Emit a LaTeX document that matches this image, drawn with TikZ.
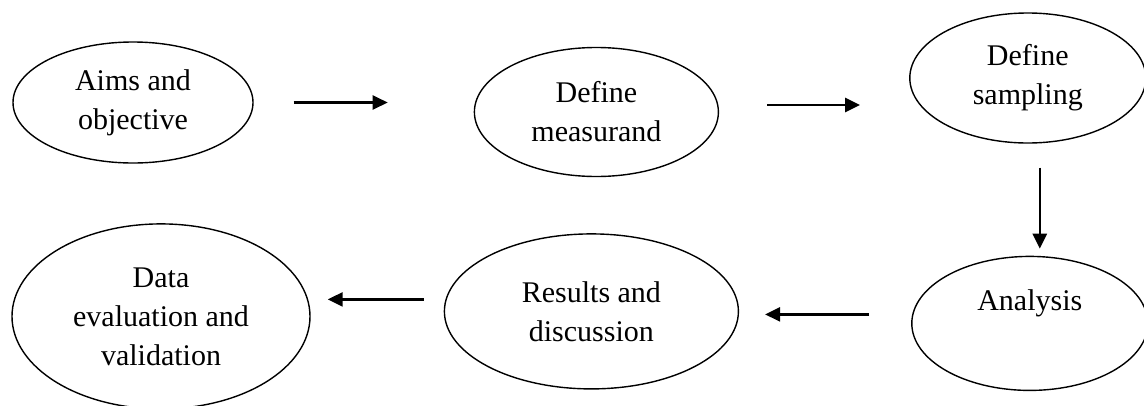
\documentclass[tikz,border=0pt]{standalone}
\usepackage{fontspec}
\setmainfont{Liberation Serif}
\usetikzlibrary{positioning,arrows.meta,shapes.geometric}
\tikzset{
  stage/.style={draw,ellipse,line width=1.4pt,align=center,inner sep=0pt,
    font=\fontsize{30}{39}\selectfont},
  arr/.style={-{Triangle[length=15pt,width=14pt]},line width=2.4pt},
}

\begin{document}
\begin{tikzpicture}[x=1pt,y=-1pt]
\useasboundingbox (0,0) rectangle (1144,405);

\node[stage, minimum width=240pt, minimum height=121pt] (aims) at (133,102.5) {Aims and\\objective};
\node[stage, minimum width=244pt, minimum height=129pt, right=220pt of aims, yshift=-9.5pt] (meas) {Define\\measurand};
\node[stage, minimum width=236pt, minimum height=130pt, right=190pt of meas, yshift=34pt] (samp) {Define\\sampling};

\node[stage, minimum width=236pt, minimum height=134pt, text depth=46pt, below=112pt of samp, xshift=2pt] (ana) {Analysis};
\node[stage, minimum width=294pt, minimum height=155pt, left=172pt of ana, yshift=12pt] (res) {Results and\\discussion};
\node[stage, minimum width=298pt, minimum height=185pt, left=133pt of res, yshift=-5pt] (data) {Data\\evaluation and\\validation};

% flow of the steps
\draw[arr, shorten <=40pt, shorten >=86pt] (aims.east) -- (aims.east -| meas.west);
\draw[arr, shorten <=48pt, shorten >=49pt] ([yshift=7pt]meas.east) -- ([yshift=7pt]meas.east -| samp.west);
\draw[arr, shorten <=24pt, shorten >=7pt] ([xshift=12pt]samp.south) -- ([xshift=12pt]samp.south |- ana.north);
\draw[arr, shorten <=42pt, shorten >=26pt] ([yshift=9pt]ana.west) -- ([yshift=9pt]ana.west -| res.east);
\draw[arr, shorten <=20pt, shorten >=17pt] ([yshift=12pt]res.west) -- ([yshift=12pt]res.west -| data.east);
\end{tikzpicture}
\end{document}
